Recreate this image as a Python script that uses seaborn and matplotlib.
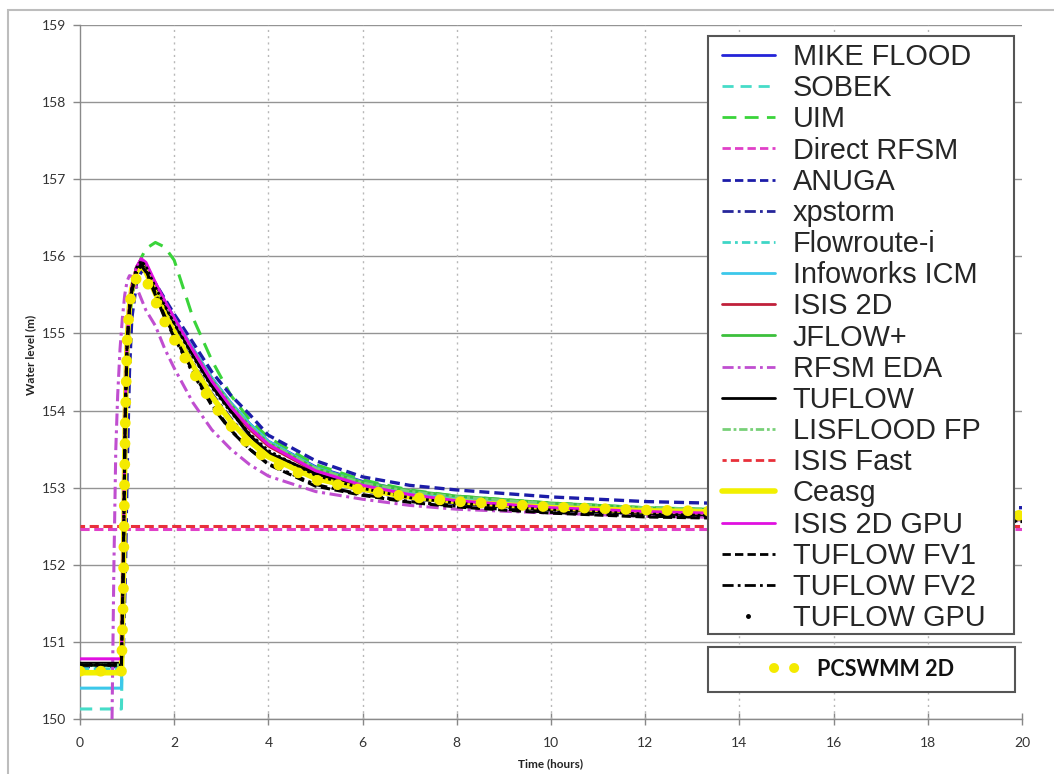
import matplotlib
matplotlib.use("Agg")
import matplotlib.pyplot as plt
import seaborn as sns
from matplotlib.lines import Line2D
from matplotlib.patches import Rectangle

# ---------------- data ----------------
T = [0.0, 0.88, 0.92, 0.96, 1.0, 1.05, 1.1, 1.2, 1.3, 1.4, 1.6, 1.8, 2.0, 2.4,
     2.8, 3.2, 3.6, 4.0, 5.0, 6.0, 7.0, 8.0, 10.0, 12.0, 14.0, 16.0, 18.0, 20.0]
T_EDA = [0.68, 0.72, 0.76, 0.8, 0.85, 0.9, 0.95, 1.0, 1.05, 1.1, 1.2, 1.4, 1.6,
         1.8, 2.0, 2.4, 2.8, 3.2, 3.6, 4.0, 5.0, 6.0, 7.0, 8.0, 10.0, 12.0,
         14.0, 16.0, 18.0, 20.0]
T_FLAT = [0.0, 20.0]

mike_flood = [150.7, 150.7, 152.0, 153.9, 154.85, 155.3, 155.55, 155.82, 155.92, 155.87, 155.65, 155.42, 155.2, 154.8,
              154.42, 154.1, 153.83, 153.6, 153.27, 153.08, 152.95, 152.87, 152.77, 152.71, 152.68, 152.66, 152.65, 152.64]
sobek = [150.13, 150.13, 151.8, 153.8, 154.8, 155.3, 155.55, 155.8, 155.9, 155.85, 155.62, 155.4, 155.18, 154.78,
         154.4, 154.08, 153.8, 153.58, 153.25, 153.06, 152.94, 152.86, 152.77, 152.72, 152.69, 152.67, 152.66, 152.65]
uim = [150.7, 150.7, 151.8, 153.6, 154.6, 155.15, 155.45, 155.8, 155.98, 156.1, 156.18, 156.12, 155.95, 155.2,
       154.65, 154.2, 153.88, 153.65, 153.3, 153.1, 152.97, 152.89, 152.8, 152.74, 152.71, 152.69, 152.68, 152.67]
direct_rfsm = [152.47, 152.47]
anuga = [150.68, 150.68, 150.9, 151.8, 153.2, 154.5, 155.2, 155.65, 155.8, 155.82, 155.65, 155.45, 155.25, 154.88,
         154.5, 154.2, 153.95, 153.68, 153.35, 153.14, 153.03, 152.97, 152.88, 152.82, 152.79, 152.77, 152.75, 152.74]
xpstorm = [150.7, 150.7, 152.0, 153.9, 154.8, 155.3, 155.52, 155.78, 155.88, 155.82, 155.58, 155.32, 155.08, 154.62,
           154.22, 153.9, 153.62, 153.42, 153.12, 152.96, 152.86, 152.79, 152.71, 152.66, 152.63, 152.62, 152.61, 152.6]
flowroute = [150.65, 150.65, 152.0, 153.9, 154.85, 155.3, 155.55, 155.8, 155.9, 155.85, 155.62, 155.38, 155.17, 154.76,
             154.38, 154.06, 153.79, 153.57, 153.24, 153.05, 152.93, 152.85, 152.76, 152.71, 152.68, 152.66, 152.65, 152.64]
infoworks = [150.4, 150.4, 151.9, 153.9, 154.85, 155.3, 155.55, 155.82, 155.92, 155.87, 155.64, 155.41, 155.2, 154.8,
             154.42, 154.1, 153.83, 153.6, 153.26, 153.07, 152.95, 152.87, 152.78, 152.72, 152.69, 152.67, 152.66, 152.65]
isis_2d = [150.72, 150.72, 152.1, 154.0, 154.9, 155.35, 155.6, 155.86, 155.96, 155.9, 155.64, 155.4, 155.18, 154.76,
           154.36, 154.04, 153.76, 153.54, 153.21, 153.02, 152.9, 152.82, 152.73, 152.68, 152.65, 152.63, 152.62, 152.61]
jflow = [150.7, 150.7, 152.0, 153.9, 154.85, 155.3, 155.55, 155.82, 155.92, 155.86, 155.62, 155.4, 155.18, 154.78,
         154.4, 154.08, 153.8, 153.58, 153.25, 153.07, 152.96, 152.89, 152.8, 152.74, 152.71, 152.69, 152.68, 152.67]
rfsm_eda = [150.0, 152.0, 153.5, 154.2, 154.8, 155.2, 155.5, 155.68, 155.75, 155.74, 155.6, 155.3, 155.1,
            154.8, 154.55, 154.1, 153.75, 153.5, 153.3, 153.15, 152.95, 152.85, 152.77, 152.72, 152.67, 152.63,
            152.61, 152.6, 152.59, 152.58]
tuflow = [150.72, 150.72, 152.2, 154.0, 154.9, 155.35, 155.6, 155.85, 155.95, 155.88, 155.62, 155.38, 155.15, 154.72,
          154.32, 154.0, 153.68, 153.45, 153.18, 153.0, 152.88, 152.8, 152.72, 152.67, 152.64, 152.62, 152.61, 152.6]
lisflood = [150.7, 150.7, 151.9, 153.8, 154.8, 155.3, 155.55, 155.8, 155.9, 155.85, 155.62, 155.4, 155.18, 154.78,
            154.4, 154.08, 153.8, 153.58, 153.25, 153.06, 152.95, 152.88, 152.79, 152.74, 152.71, 152.69, 152.68, 152.67]
isis_fast = [152.5, 152.5]
ceasg = [150.6, 150.6, 151.8, 153.9, 154.9, 155.35, 155.58, 155.8, 155.88, 155.8, 155.52, 155.25, 155.02, 154.58,
         154.18, 153.86, 153.6, 153.4, 153.12, 152.98, 152.88, 152.82, 152.74, 152.7, 152.68, 152.66, 152.65, 152.64]
isis_2d_gpu = [150.78, 150.78, 152.2, 154.0, 154.9, 155.35, 155.6, 155.86, 155.97, 155.92, 155.66, 155.42, 155.2, 154.78,
               154.38, 154.05, 153.78, 153.56, 153.22, 153.03, 152.91, 152.83, 152.74, 152.69, 152.66, 152.64, 152.63, 152.62]
tuflow_fv1 = [150.7, 150.7, 152.0, 153.9, 154.85, 155.3, 155.55, 155.8, 155.9, 155.82, 155.52, 155.22, 154.97, 154.5,
              154.08, 153.75, 153.5, 153.3, 153.02, 152.9, 152.81, 152.75, 152.67, 152.62, 152.6, 152.58, 152.57, 152.56]
tuflow_fv2 = [150.7, 150.7, 152.0, 153.9, 154.85, 155.3, 155.55, 155.8, 155.88, 155.8, 155.5, 155.2, 154.95, 154.48,
              154.06, 153.74, 153.5, 153.31, 153.04, 152.91, 152.82, 152.76, 152.68, 152.63, 152.61, 152.59, 152.58, 152.57]
tuflow_gpu = [150.7, 150.7, 152.1, 154.0, 154.9, 155.35, 155.6, 155.85, 155.94, 155.87, 155.6, 155.36, 155.13, 154.7,
              154.3, 153.98, 153.7, 153.48, 153.16, 152.99, 152.87, 152.8, 152.71, 152.66, 152.63, 152.61, 152.6, 152.59]
pcswmm_2d = [150.62, 150.62, 151.6, 153.8, 154.9, 155.35, 155.55, 155.72, 155.78, 155.7, 155.42, 155.15, 154.92, 154.5,
             154.1, 153.8, 153.55, 153.35, 153.1, 152.97, 152.88, 152.82, 152.75, 152.71, 152.69, 152.67, 152.65, 152.64]

x_ticks = [0, 2, 4, 6, 8, 10, 12, 14, 16, 18, 20]
y_ticks = [150, 151, 152, 153, 154, 155, 156, 157, 158, 159]

# ---------------- styles ----------------
series = [
    ("MIKE FLOOD", T, mike_flood, "#2424d8", "-", 2.2),
    ("SOBEK", T, sobek, "#46dcc8", (0, (4, 2.5)), 2.2),
    ("UIM", T, uim, "#3ad43a", (0, (5, 3)), 2.2),
    ("Direct RFSM", T_FLAT, direct_rfsm, "#e040c8", (0, (3, 1.5)), 2.2),
    ("ANUGA", T, anuga, "#1c1ca8", (0, (3, 1.5)), 2.4),
    ("xpstorm", T, xpstorm, "#26269a", (0, (4, 1.5, 1, 1.5)), 2.2),
    ("Flowroute-i", T, flowroute, "#3ed6c6", (0, (3, 1.5, 1, 1.5)), 2.2),
    ("Infoworks ICM", T, infoworks, "#3cc8ea", "-", 2.2),
    ("ISIS 2D", T, isis_2d, "#c0203a", "-", 2.2),
    ("JFLOW+", T, jflow, "#3cc03c", "-", 2.2),
    ("RFSM EDA", T_EDA, rfsm_eda, "#c04ed0", (0, (4, 1.5, 1, 1.5)), 2.2),
    ("TUFLOW", T, tuflow, "#000000", "-", 2.4),
    ("LISFLOOD FP", T, lisflood, "#78d078", (0, (3, 1, 1, 1)), 2.2),
    ("ISIS Fast", T_FLAT, isis_fast, "#e8303a", (1.5, (3, 1.5)), 2.2),
    ("Ceasg", T, ceasg, "#f2f000", "-", 4.0),
    ("ISIS 2D GPU", T, isis_2d_gpu, "#e010e0", "-", 2.2),
    ("TUFLOW FV1", T, tuflow_fv1, "#000000", (0, (3, 1.5)), 2.2),
    ("TUFLOW FV2", T, tuflow_fv2, "#000000", (0, (4, 1.5, 1, 1.5)), 2.2),
    ("TUFLOW GPU", T, tuflow_gpu, "#000000", (0, (1, 1)), 2.0),
]

sns.set_theme(style="white")
plt.rcParams['font.family'] = ['Lato', 'DejaVu Sans']

W, H = 1054, 774
fig = plt.figure(figsize=(W / 100, H / 100), dpi=100)
fig.patch.set_facecolor("white")
ax = fig.add_axes([80 / W, 1 - 719 / H, 942 / W, 694 / H])

for label, tt, yy, col, ls, lw in series:
    sns.lineplot(x=tt, y=yy, ax=ax, estimator=None, sort=False, color=col,
                 linestyle=ls, linewidth=lw, legend=False, zorder=3)

sns.lineplot(x=T, y=pcswmm_2d, ax=ax, estimator=None, sort=False, color="#f4ea00",
             linestyle=(0, (0.01, 1.9)), linewidth=7.8, dash_capstyle="round",
             legend=False, zorder=4)

ax.set_xlim(0, 20)
ax.set_ylim(150, 159)
ax.set_xticks(x_ticks)
ax.set_yticks(y_ticks)
ax.set_xticklabels([str(v) for v in x_ticks])
ax.set_yticklabels([str(v) for v in y_ticks])

ax.grid(False)
for v in y_ticks:
    ax.axhline(v, color="#949494", lw=1.0, zorder=1)
for v in x_ticks[1:-1]:
    ax.axvline(v, color="#b8b8b8", lw=1.0, ls=(0, (1.5, 3)), zorder=1)

for s in ["top", "right"]:
    ax.spines[s].set_visible(False)
for s in ["left", "bottom"]:
    ax.spines[s].set_color("#8a8a8a")
    ax.spines[s].set_linewidth(1.0)

ax.tick_params(axis="x", direction="inout", length=8, width=1, color="#888888",
               pad=9, labelsize=10, labelcolor="#333333", bottom=True)
ax.tick_params(axis="y", direction="out", length=5, width=1, color="#888888",
               pad=5, labelsize=10, labelcolor="#333333", left=True)

ax.set_xlabel("Time (hours)", fontsize=8.5, fontweight="bold", color="#222222")
ax.set_ylabel("Water level (m)", fontsize=8.5, fontweight="bold", color="#222222")
ax.xaxis.set_label_coords(0.5, -0.056)
ax.yaxis.set_label_coords(-0.046, 0.524)

# ---------------- legends ----------------
handles = []
for label, tt, yy, col, ls, lw in series:
    if label == "TUFLOW GPU":
        handles.append(Line2D([0], [0], color=col, ls="None", marker=".", markersize=5))
    elif label == "Ceasg":
        handles.append(Line2D([0], [0], color=col, ls=ls, lw=4))
    else:
        handles.append(Line2D([0], [0], color=col, ls=ls, lw=2))
labels = [s[0] for s in series]

# white boxes with frames (drawn above the axes, below the legends)
fig.patches.append(Rectangle((708 / W, 1 - 634 / H), 306 / W, 598 / H, fill=True,
                             facecolor="white", edgecolor="#555555", lw=1.5,
                             transform=fig.transFigure, figure=fig, zorder=2))
fig.patches.append(Rectangle((708 / W, 1 - 692 / H), 307 / W, 45 / H, fill=True,
                             facecolor="white", edgecolor="#555555", lw=1.5,
                             transform=fig.transFigure, figure=fig, zorder=2))

leg = fig.legend(handles, labels, loc="upper left",
                 bbox_to_anchor=(722 / W, 1 - 43 / H),
                 bbox_transform=fig.transFigure, borderaxespad=0,
                 prop={"family": "Liberation Sans", "size": 20.8},
                 frameon=False, handlelength=1.83, handletextpad=0.62,
                 labelspacing=0.11, borderpad=0)
leg.set_zorder(6)

pc_handle = Line2D([0], [0], color="#f4ea00", ls=(0, (0.01, 2.0)), lw=7.2,
                   dash_capstyle="round")
leg2 = fig.legend([pc_handle], ["PCSWMM 2D"], loc="center",
                  bbox_to_anchor=(864 / W, 1 - 669.5 / H),
                  bbox_transform=fig.transFigure, frameon=False,
                  prop={"family": "Lato", "size": 15.5, "weight": "bold"},
                  handlelength=1.0, handletextpad=1.0)
leg2.set_zorder(6)
for t in leg2.get_texts():
    t.set_color("#111111")

# outer light frame
fig.patches.append(Rectangle((8 / W, -0.02), 1.05, 1 - 10 / H + 0.02, fill=False,
                             edgecolor="#bdbdbd", lw=1.5, transform=fig.transFigure,
                             figure=fig, zorder=3))

fig.savefig("out.png", dpi=100)
